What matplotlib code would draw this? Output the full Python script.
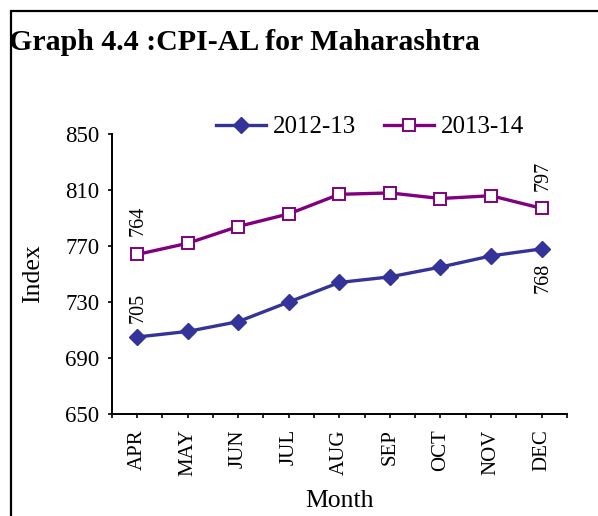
import matplotlib.pyplot as plt
from matplotlib.patches import Rectangle
import numpy as np

months = ["APR", "MAY", "JUN", "JUL", "AUG", "SEP", "OCT", "NOV", "DEC"]
cpi_2012_13 = [705, 709, 716, 730, 744, 748, 755, 763, 768]
cpi_2013_14 = [764, 772, 784, 793, 807, 808, 804, 806, 797]
yticks = [650, 690, 730, 770, 810, 850]

plt.rcParams["font.family"] = ["Liberation Serif", "DejaVu Serif"]

fig = plt.figure(figsize=(5.98, 5.16), dpi=100)
ax = fig.add_axes([0.1868, 0.1977, 0.7612, 0.5423])

# outer frame (only top and left visible in the original)
fig.patches.append(Rectangle((11 / 598, -0.1), 1.2, (516 - 11) / 516 + 0.1,
                             transform=fig.transFigure, fill=False,
                             edgecolor="black", linewidth=1.6))

x = np.arange(len(months))
ax.plot(x, cpi_2012_13, color="#333399", linewidth=2.4, marker="D",
        markersize=8, label="2012-13")
ax.plot(x, cpi_2013_14, color="#800080", linewidth=2.4, marker="s",
        markersize=9, markerfacecolor="white", markeredgewidth=1.4,
        label="2013-14")

# data labels on first and last points
lab = dict(textcoords="offset points", rotation=90, ha="center", fontsize=14.5)
ax.annotate(str(cpi_2012_13[0]), (x[0], cpi_2012_13[0]), xytext=(1, 10),
            va="bottom", **lab)
ax.annotate(str(cpi_2013_14[0]), (x[0], cpi_2013_14[0]), xytext=(1, 13),
            va="bottom", **lab)
ax.annotate(str(cpi_2013_14[-1]), (x[-1], cpi_2013_14[-1]), xytext=(1, 12.5),
            va="bottom", **lab)
ax.annotate(str(cpi_2012_13[-1]), (x[-1], cpi_2012_13[-1]), xytext=(1, -10),
            va="top", **lab)

ax.set_xlim(-0.5, len(months) - 0.5)
ax.set_ylim(650, 850)
ax.set_yticks(yticks)
ax.set_xticks(x)
ax.set_xticklabels(months, rotation=90, fontsize=15)
ax.set_xticks(np.arange(-0.5, len(months), 1.0), minor=True)
ax.tick_params(axis="x", which="both", direction="out", length=3, width=1.2,
               pad=8)
ax.tick_params(axis="y", direction="out", length=3, width=1.2, labelsize=16.5,
               pad=6)

for side in ["top", "right"]:
    ax.spines[side].set_visible(False)
for side in ["left", "bottom"]:
    ax.spines[side].set_linewidth(1.4)

ax.set_ylabel("Index", fontsize=18.5, labelpad=15)
ax.set_xlabel("Month", fontsize=18.5, labelpad=10)

fig.legend(*ax.get_legend_handles_labels(), loc="center",
           bbox_to_anchor=(370 / 598, 1 - 127 / 516), ncol=2,
           frameon=False, fontsize=18, handlelength=2.0, columnspacing=1.1,
           handletextpad=0.3)

fig.text(9 / 598, 1 - 42 / 516, "Graph 4.4 :CPI-AL for Maharashtra",
         fontsize=21.5, fontweight="bold", va="center", ha="left")

plt.savefig("out.png")
